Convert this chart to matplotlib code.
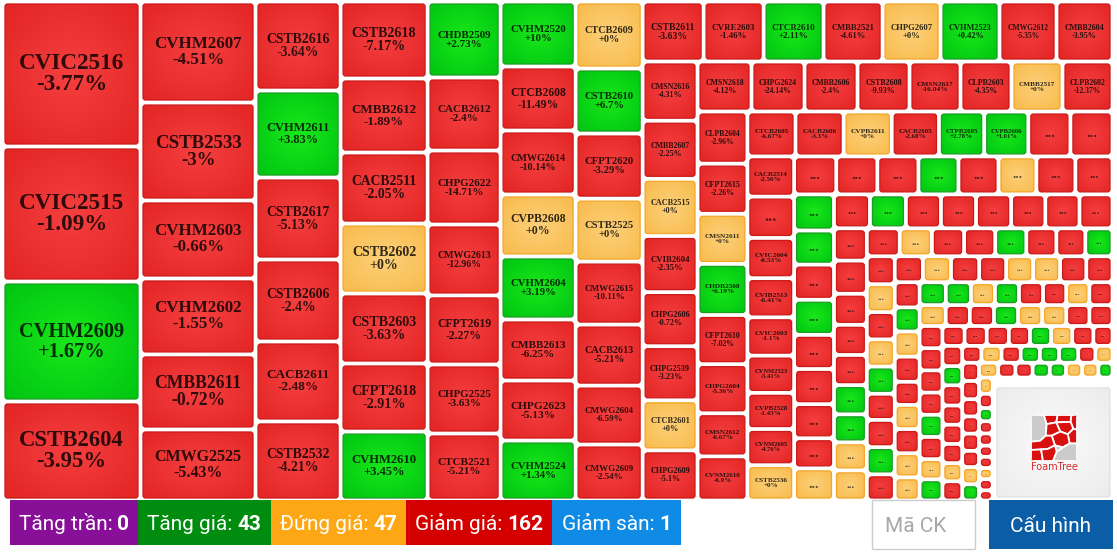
import numpy as np
import matplotlib
matplotlib.use('Agg')
import matplotlib.pyplot as plt
from matplotlib.colors import to_rgb
from matplotlib.patches import FancyBboxPatch, Rectangle, Polygon

""" DATOS """
# ma chung quyen co nhan (theo thu tu bo cuc), '...' = o khong hien nhan
ma_ck = [
    'CVIC2516', 'CVIC2515', 'CVHM2609', 'CSTB2604',
    'CVHM2607', 'CSTB2533', 'CVHM2603', 'CVHM2602', 'CMBB2611', 'CMWG2525',
    'CSTB2616', 'CVHM2611', 'CSTB2617', 'CSTB2606', 'CACB2611', 'CSTB2532',
    'CSTB2618', 'CMBB2612', 'CACB2511', 'CSTB2602', 'CSTB2603', 'CFPT2618', 'CVHM2610',
    'CHDB2509', 'CACB2612', 'CHPG2622', 'CMWG2613', 'CFPT2619', 'CHPG2525', 'CTCB2521',
    'CVHM2520', 'CTCB2608', 'CMWG2614', 'CVPB2608', 'CVHM2604', 'CMBB2613', 'CHPG2623', 'CVHM2524',
    'CTCB2609', 'CSTB2610', 'CFPT2620', 'CSTB2525', 'CMWG2615', 'CACB2613', 'CMWG2604', 'CMWG2609',
    'CSTB2611', 'CVRE2603', 'CTCB2610', 'CMBB2521', 'CHPG2607', 'CVHM2523', 'CMWG2612', 'CMBB2604',
    'CMSN2616', 'CMBB2607', 'CACB2515', 'CVIB2604', 'CHPG2606', 'CHPG2539', 'CTCB2601', 'CHPG2609',
    'CMSN2618', 'CHPG2624', 'CMBB2606', 'CSTB2608', 'CMSN2617', 'CLPB2603', 'CMBB2517', 'CLPB2602',
    'CLPB2604', 'CFPT2615', 'CMSN2611', 'CHDB2508', 'CFPT2610', 'CHPG2604', 'CMSN2612', 'CVNM2610',
    'CTCB2605', 'CACB2606', 'CVPB2611', 'CACB2605', 'CTPB2605', 'CVPB2606', '...', '...',
    'CACB2514', '...', 'CVIC2604', 'CVIB2513', 'CVIC2603', 'CVNM2523', 'CVPB2528', 'CVNM2605', 'CSTB2536',
]

# % thay doi gia
thay_doi = [
    -3.77, -1.09, 1.67, -3.95,
    -4.51, -3, -0.66, -1.55, -0.72, -5.43,
    -3.64, 3.83, -5.13, -2.4, -2.48, -4.21,
    -7.17, -1.89, -2.05, 0, -3.63, -2.91, 3.45,
    2.73, -2.4, -14.71, -12.96, -2.27, -3.63, -5.21,
    10, -11.49, -10.14, 0, 3.19, -6.25, -5.13, 1.34,
    0, 6.7, -3.29, 0, -10.11, -5.21, -6.59, -2.54,
    -3.63, -1.46, 2.11, -4.61, 0, 0.42, -5.35, -3.95,
    -4.31, -2.25, 0, -2.35, -0.72, -3.23, 0, -5.1,
    -4.12, -24.14, -2.4, -9.93, -16.04, -4.35, 0, -12.37,
    -2.96, -2.26, 0, 6.19, -7.02, -5.36, -6.67, -6.9,
    -6.67, -3.3, 0, -2.68, 2.78, 1.01, None, None,
    -2.56, None, -0.53, -6.41, -1.1, -5.41, -1.45, -4.76, 0,
]

# mau cua cac o khong nhan (R giam, G tang, Y dung)
trang_thai_an = ('RRR'
                 'RRRGRYRR' 'GGRGRRRRY' 'RGRRRRRR' 'RRRRRGGYY'
                 'RYRRGRRG' 'RYRYGRRGR' 'RYRRYYRR' 'RGYRRYRYY'
                 'GGYGRRYR' 'YRRGYYRR' 'RRRRGRYG' 'RRRRGYRR'
                 'RGRRRRYR' 'RYRGGGRY' 'RRRRRRYG' 'YRRGGYYG'
                 'YRGRRRRYRR')

# gia tri giao dich (trong so dien tich o)
khoi_luong = [
    200.1, 186.3, 165.6, 136.6,
    116.2, 112.7, 89.7, 87.4, 86.3, 81.7,
    75.7, 74.0, 69.7, 69.7, 68.0, 67.2,
    67.0, 64.4, 61.8, 60.9, 60.9, 59.2, 60.0,
    55.5, 53.3, 54.0, 51.8, 50.4, 50.4, 48.9,
    48.8, 48.0, 48.0, 46.5, 47.3, 45.8, 45.0, 45.0,
    44.9, 43.6, 43.6, 42.2, 42.2, 40.9, 39.5, 37.5,
    36.6, 36.0, 36.0, 35.4, 34.8, 35.4, 34.2, 33.6,
    32.5, 31.9, 31.4, 30.8, 29.7, 29.7, 27.5, 27.5,
    27.0, 26.5, 26.5, 26.0, 25.5, 25.5, 25.5, 25.0,
    26.0, 25.0, 25.0, 25.5, 24.5, 24.5, 21.5, 22.0,
    21.6, 21.6, 21.6, 21.2, 20.3, 19.8, 18.9, 18.9,
    18.8, 19.3, 18.8, 18.3, 17.9, 17.4, 16.9, 16.9, 16.5,
    16.0, 15.6, 15.6, 15.2, 15.2, 14.4, 14.8, 14.1,
    14.4, 13.6, 14.0, 14.0, 13.6, 14.0, 13.6, 12.0, 12.8,
    12.2, 12.2, 11.9, 11.9, 11.9, 11.6, 11.6, 11.2,
    10.6, 10.9, 10.2, 9.9, 9.9, 9.6, 9.2, 9.2, 9.9,
    9.2, 9.0, 9.0, 8.7, 8.7, 8.4, 8.1, 7.6,
    7.8, 7.8, 7.6, 7.6, 7.6, 7.3, 7.6, 7.6, 7.3,
    7.3, 7.3, 7.3, 7.0, 7.0, 7.0, 6.8, 6.8,
    6.25, 6.0, 6.25, 6.25, 5.75, 6.0, 6.0, 6.0, 5.75,
    6.0, 5.75, 5.5, 5.5, 5.5, 5.3, 5.3, 5.3,
    5.46, 5.04, 5.04, 5.04, 5.04, 5.04, 4.83, 4.83,
    5.06, 5.06, 5.06, 5.06, 5.06, 5.06, 4.6, 4.83,
    4.4, 4.4, 4.4, 4.2, 4.2, 4.2, 4.2, 3.8,
    4.0, 3.8, 4.0, 3.8, 3.8, 3.8, 3.6, 3.8,
    3.23, 3.4, 3.23, 3.23, 3.23, 3.23, 2.89, 2.89,
    3.06, 3.06, 2.89, 2.89, 2.89, 2.72, 2.89, 2.72,
    2.85, 2.55, 2.55, 2.55, 2.4, 2.4, 2.4, 2.1,
    2.24, 1.96, 1.82, 1.68, 1.68, 1.54, 1.54, 1.54, 1.54, 1.4,
]

# thanh thong ke
nhom = ['Tăng trần', 'Tăng giá', 'Đứng giá', 'Giảm giá', 'Giảm sàn']
so_luong = [0, 43, 47, 162, 1]


""" BO CUC (dai doc / ngang theo kieu squarified) """
dai = [('c', 4), ('c', 6), ('c', 6), ('c', 7), ('c', 7), ('c', 8), ('c', 8),
       ('r', 8), ('c', 8), ('r', 8), ('c', 8), ('r', 8), ('c', 9),
       ('r', 8), ('c', 9), ('r', 8), ('c', 9), ('r', 8), ('c', 9), ('r', 8), ('c', 9),
       ('r', 8), ('r', 8), ('c', 8), ('r', 8), ('c', 8), ('r', 8), ('c', 8), ('r', 8),
       ('c', 10)]

DON_VI = 100.0   # px^2 cho moi don vi trong so
GAP = 5


def bo_cuc(w_list, strips, x0, y0, w, h):
    rects = []
    i = 0
    for kind, n in strips:
        vals = w_list[i:i + n]
        area = sum(vals) * DON_VI
        if kind == 'c':
            cw = area / h
            yy = y0
            for v in vals:
                th = v * DON_VI / cw
                rects.append((x0, yy, cw, th))
                yy += th
            x0 += cw
            w -= cw
        else:
            rh = area / w
            xx = x0
            for v in vals:
                tw = v * DON_VI / rh
                rects.append((xx, y0, tw, rh))
                xx += tw
            y0 += rh
            h -= rh
        i += n
    return rects


rects = bo_cuc(khoi_luong, dai, 5, 4, 1110, 499)

# mau: (tam, vien ngoai, duong bao)
mau = {'R': ('#f63f3f', '#e22525', '#cc1a1a'),
       'G': ('#1ae81a', '#00c512', '#1d9d25'),
       'Y': ('#fdd07a', '#f8bb4c', '#f3a62a')}

n = 48
gy, gx = np.mgrid[-1:1:n * 1j, -1:1:n * 1j]
rr = np.clip(np.sqrt(gx ** 2 + gy ** 2) / np.sqrt(2), 0, 1)[..., None]
grad = {k: (1 - rr) * np.array(to_rgb(c[0])) + rr * np.array(to_rgb(c[1])) for k, c in mau.items()}

fig = plt.figure(figsize=(11.17, 5.55), dpi=100)
ax = fig.add_axes([0, 0, 1, 1])
ax.axis('off')
ax.set_xlim(0, 1117)
ax.set_ylim(555, 0)
rend = fig.canvas.get_renderer()

an_iter = iter(trang_thai_an)
for i, (x, y, w, h) in enumerate(rects):
    tw, th = w - GAP, h - GAP
    name = ma_ck[i] if i < len(ma_ck) else '...'
    if name != '...':
        v = thay_doi[i]
        st = 'G' if v > 0 else ('Y' if v == 0 else 'R')
    else:
        st = next(an_iter)
    patch = FancyBboxPatch((x, y), tw, th, boxstyle='round,pad=0,rounding_size=2.5',
                           fc='none', ec=mau[st][2], lw=0.9, zorder=3)
    ax.add_patch(patch)
    im = ax.imshow(grad[st], extent=(x, x + tw, y + th, y), interpolation='bilinear',
                   aspect='auto', zorder=2)
    im.set_clip_path(patch)

    cx, cy = x + tw / 2, y + th / 2
    if name != '...':
        s = name + '\n' + f'{v:+g}%'
        t = ax.text(cx, cy, s, fontsize=10, family='Liberation Serif', weight='bold',
                    ha='center', va='center', multialignment='center', linespacing=1.0,
                    color=(0, 0, 0, 0.8), zorder=4)
        bb = t.get_window_extent(renderer=rend)
        k = min(0.79 * tw / bb.width, 0.5 * th / bb.height)
        t.set_fontsize(10 * k)
    else:
        t = ax.text(cx, cy, '...', fontsize=10, family='Liberation Serif', weight='bold',
                    ha='center', va='center', color=(0, 0, 0, 0.6), zorder=4)
        bb = t.get_window_extent(renderer=rend)
        t.set_fontsize(10 * 0.3 * tw / bb.width)

# logo FoamTree
logo_bg = FancyBboxPatch((997, 388), 113, 109, boxstyle='round,pad=0,rounding_size=2',
                         fc='none', ec='#dedede', lw=0.8, zorder=6)
ax.add_patch(logo_bg)
bg_grad = (1 - rr) * np.array(to_rgb('#fbfbfb')) + rr * np.array(to_rgb('#ececec'))
im = ax.imshow(bg_grad, extent=(997, 1110, 497, 388), interpolation='bilinear', aspect='auto', zorder=5)
im.set_clip_path(logo_bg)

lx, ly, ls = 1031, 415, 46
khung = FancyBboxPatch((lx, ly), ls, ls, boxstyle='round,pad=0,rounding_size=3',
                       fc='#cbcbcb', ec='none', zorder=7)
ax.add_patch(khung)
o_logo = [
    ('#cbcbcb', [(0, 0), (0.28, 0), (0.34, 0.2), (0.32, 0.45), (0.2, 0.56), (0, 0.58)]),
    ('#d91010', [(0.28, 0), (0.58, 0), (0.55, 0.16), (0.34, 0.2)]),
    ('#d91010', [(0.58, 0), (0.88, 0), (0.86, 0.15), (0.55, 0.16)]),
    ('#d91010', [(0.88, 0), (1, 0), (1, 0.32), (0.92, 0.30), (0.86, 0.15)]),
    ('#d91010', [(0.34, 0.2), (0.55, 0.16), (0.64, 0.36), (0.45, 0.45), (0.32, 0.45)]),
    ('#d91010', [(0.55, 0.16), (0.86, 0.15), (0.92, 0.30), (0.8, 0.42), (0.64, 0.36)]),
    ('#d91010', [(0.92, 0.30), (1, 0.32), (1, 0.62), (0.84, 0.62), (0.8, 0.42)]),
    ('#d91010', [(0.45, 0.45), (0.64, 0.36), (0.8, 0.42), (0.84, 0.62), (0.7, 0.7), (0.52, 0.66)]),
    ('#d91010', [(0, 0.58), (0.2, 0.56), (0.32, 0.45), (0.45, 0.45), (0.52, 0.66), (0.36, 0.74), (0, 0.76)]),
    ('#d91010', [(0, 0.76), (0.22, 0.75), (0.26, 1), (0, 1)]),
    ('#d91010', [(0.22, 0.75), (0.36, 0.74), (0.52, 0.66), (0.56, 0.8), (0.48, 1), (0.26, 1)]),
    ('#cbcbcb', [(0.56, 0.8), (0.7, 0.7), (0.84, 0.62), (1, 0.62), (1, 1), (0.48, 1)]),
]
for fc, poly in o_logo:
    pts = [(lx + px * ls, ly + py * ls) for px, py in poly]
    pg = Polygon(pts, closed=True, fc=fc, ec='white', lw=1.3, zorder=8)
    ax.add_patch(pg)
    pg.set_clip_path(khung)
ax.text(lx + ls / 2, 467, 'FoamTree', fontsize=7, family='DejaVu Sans', color='#d42a2a',
        ha='center', va='center', zorder=9)

# thanh thong ke duoi
mau_nhom = ['#880f98', '#008c0e', '#fda714', '#d40000', '#0f8be6']
seg_x = [10, 138, 271, 406, 552, 681]
for k in range(len(nhom)):
    ax.add_patch(Rectangle((seg_x[k], 500), seg_x[k + 1] - seg_x[k], 45, fc=mau_nhom[k], ec='none'))
    t1 = ax.text(0, 530, nhom[k] + ':', fontsize=15, family='Roboto', color='white', va='baseline')
    t2 = ax.text(0, 530, str(so_luong[k]), fontsize=15, family='Roboto', weight='bold',
                 color='white', va='baseline')
    w1 = t1.get_window_extent(renderer=rend).width
    w2 = t2.get_window_extent(renderer=rend).width
    sp = 5
    x_start = (seg_x[k] + seg_x[k + 1]) / 2 - (w1 + sp + w2) / 2
    t1.set_x(x_start)
    t2.set_x(x_start + w1 + sp)

# o tim kiem va nut
ax.add_patch(Rectangle((872, 500), 103, 49, fc='white', ec='#cccccc', lw=1.0))
ax.text(885, 532, 'Mã CK', fontsize=15, family='Roboto', color='#a8a8a8', va='baseline')
ax.add_patch(Rectangle((989, 500), 124, 49, fc='#0b5ea6', ec='none'))
ax.text(1051, 532, 'Cấu hình', fontsize=15, family='Roboto', color='white', ha='center', va='baseline')

plt.savefig('out.png', dpi=100, facecolor='white')
